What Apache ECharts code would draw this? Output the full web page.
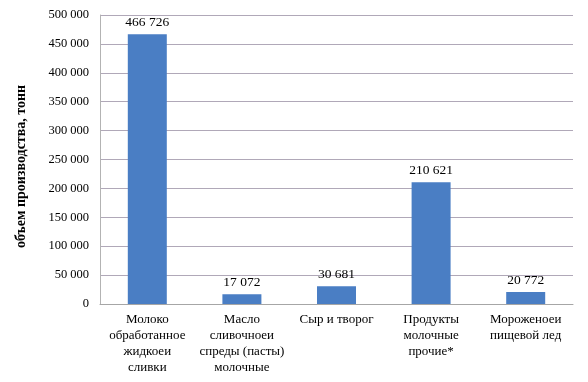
<!DOCTYPE html>
<html><head><meta charset="utf-8">
<script src="https://cdn.jsdelivr.net/npm/echarts@6/dist/echarts.min.js"></script>
<style>html,body{margin:0;padding:0;background:#fff}#c{width:588px;height:382px}</style>
</head><body><div id="c"></div>
<script>
var categories = ["Молоко\nобработанное\nжидкоеи\nсливки", "Масло\nсливочноеи\nспреды (пасты)\nмолочные", "Сыр и творог", "Продукты\nмолочные\nпрочие*", "Мороженоеи\nпищевой лед"];
var values = [466726, 17072, 30681, 210621, 20772];
var yTicks = [0, 50000, 100000, 150000, 200000, 250000, 300000, 350000, 400000, 450000, 500000];
var yTitle = "объем производства, тонн";

function fmt(v){ return String(v).replace(/\B(?=(\d{3})+(?!\d))/g, ' '); }
var font = "'Liberation Serif', 'DejaVu Serif', serif";
var chart = echarts.init(document.getElementById('c'));
chart.setOption({
  animation: false,
  grid: {left: 100, right: 15, top: 15, bottom: 78},
  xAxis: {
    type: 'category', data: categories,
    axisLine: {lineStyle: {color: '#a6a6a6'}},
    axisTick: {show: false},
    axisLabel: {interval: 0, fontFamily: font, fontSize: 13, color: '#000', lineHeight: 16, margin: 8}
  },
  yAxis: {
    type: 'value', min: yTicks[0], max: yTicks[yTicks.length-1], interval: 50000,
    name: yTitle, nameLocation: 'middle', nameGap: 72,
    nameTextStyle: {fontFamily: font, fontSize: 14, fontWeight: 'bold', color: '#000', padding: [0, 0, 0, -14]},
    axisLine: {show: true, lineStyle: {color: '#b3b3b3'}},
    axisTick: {show: false},
    axisLabel: {fontFamily: font, fontSize: 12.5, color: '#000', margin: 11, formatter: fmt},
    splitLine: {lineStyle: {color: '#b0a8b8'}}
  },
  series: [{
    type: 'bar', data: values, barWidth: 39,
    itemStyle: {color: '#4a7ec4'},
    label: {show: true, position: 'top', distance: 5, fontFamily: font, fontSize: 13.5, color: '#000', formatter: function(p){return fmt(p.value);}}
  }]
});
</script></body></html>
